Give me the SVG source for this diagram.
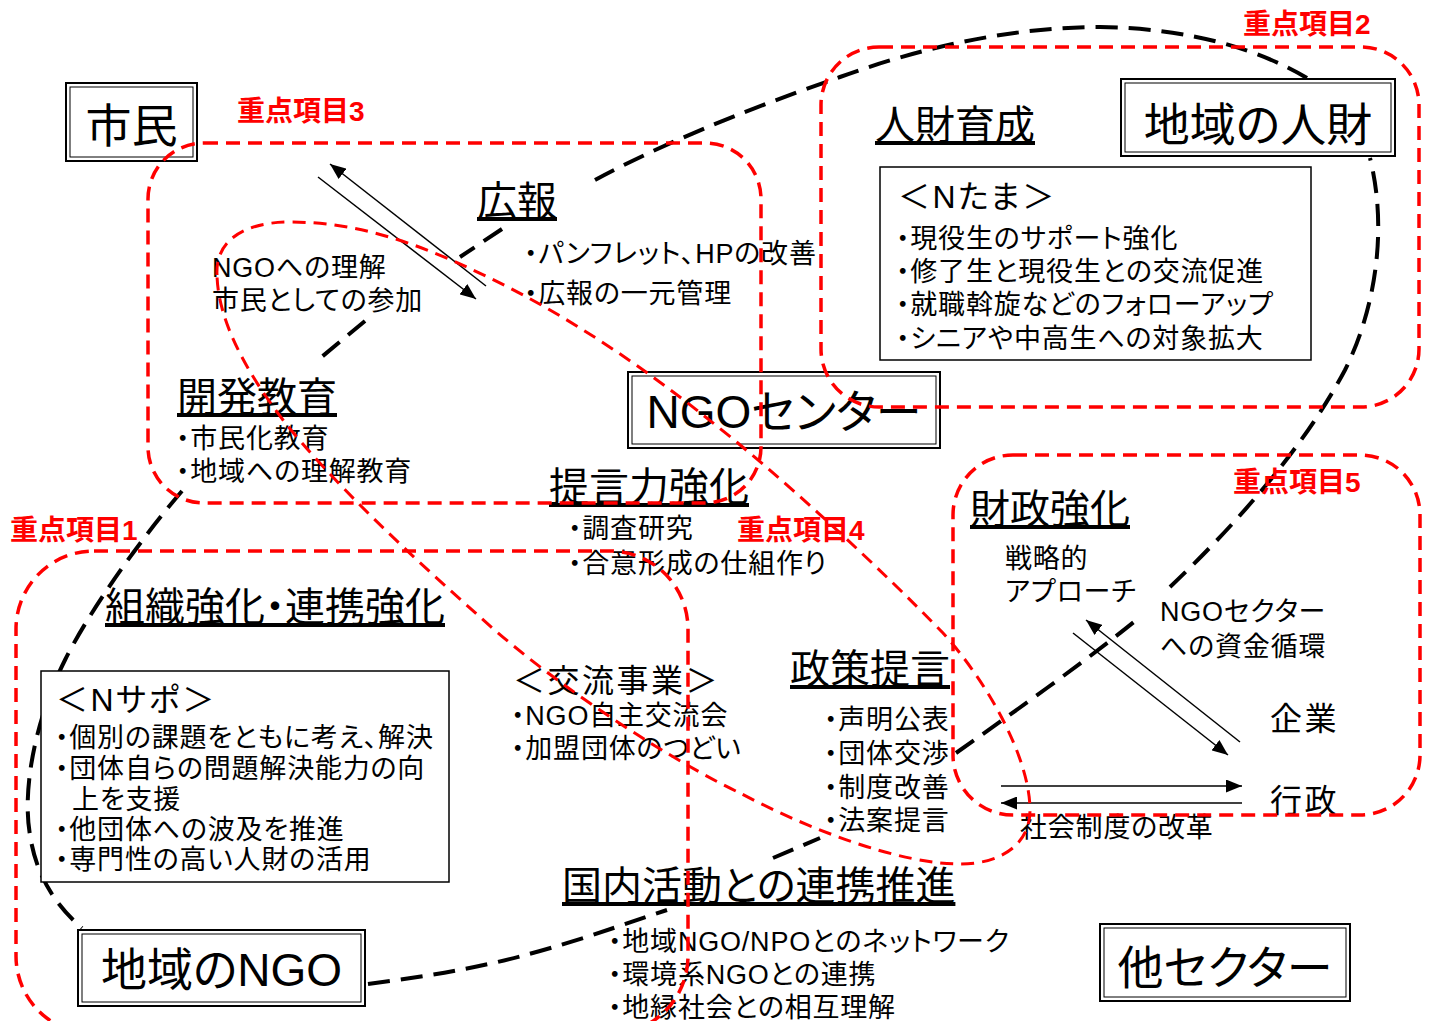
<svg xmlns="http://www.w3.org/2000/svg" width="1432" height="1021" viewBox="0 0 1432 1021">
<defs>
<style>
.t{font-family:"Liberation Sans","Noto Sans CJK JP",sans-serif;fill:#000;font-feature-settings:"palt" 1}
.b{font-size:27px;letter-spacing:0.8px}
.h{font-size:40px;text-decoration:underline}
.bx{font-size:46px;text-anchor:middle}
.hd{font-size:32px;letter-spacing:2.5px}
.red{font-family:"Liberation Sans","Noto Sans CJK JP",sans-serif;fill:#ff0000;font-weight:bold;font-size:28px}
.rd{fill:none;stroke:#ff0000;stroke-width:3.5;stroke-dasharray:14 8}
.rd2{fill:none;stroke:#ff0000;stroke-width:3;stroke-dasharray:13 8}
.bd{fill:none;stroke:#000;stroke-width:4;stroke-dasharray:22 11}
.ar{fill:none;stroke:#000;stroke-width:1.5;marker-end:url(#ah)}
.fo{fill:#fff;stroke:#000;stroke-width:2}
.fi{fill:none;stroke:#000;stroke-width:1}
.sb{fill:#fff;stroke:#000;stroke-width:1.5}
</style>
<marker id="ah" markerUnits="userSpaceOnUse" markerWidth="17" markerHeight="13" refX="16" refY="6.5" orient="auto">
<path d="M0,0 L16,6.5 L0,13 Z" fill="#000"/>
</marker>
</defs>
<rect width="1432" height="1021" fill="#fff"/>

<g id="connectors">
<path class="bd" d="M368,984 C430,976 480,968 540,951 C590,937 630,922 667,910"/>
<path class="bd" d="M773,858 L820,838"/>
<path class="bd" d="M956,753 C1010,715 1090,658 1140,617"/>
<path class="bd" d="M1170,587 C1225,535 1300,455 1345,370 C1375,310 1388,230 1370,158"/>
<path class="bd" d="M1307,78 C1260,50 1190,28 1100,27 C1010,27 920,48 840,77 C740,112 660,145 595,180"/>
<path class="bd" d="M502,229 L460,257"/>
<path class="bd" d="M365,321 L318,360"/>
<path class="bd" d="M182,491 C140,540 90,610 65,660 C35,720 22,790 30,835 C36,875 55,905 82,928"/>
<line class="ar" x1="318" y1="177" x2="476" y2="299"/>
<line class="ar" x1="486" y1="286" x2="330" y2="164"/>
<line class="ar" x1="1240" y1="742" x2="1086" y2="620"/>
<line class="ar" x1="1073" y1="633" x2="1228" y2="755"/>
<line class="ar" x1="1001" y1="786" x2="1242" y2="786"/>
<line class="ar" x1="1242" y1="803" x2="1001" y2="803"/>
</g>

<g id="node-shimin">
<rect class="fo" x="66" y="83" width="131" height="78"/>
<rect class="fi" x="70" y="87" width="123" height="70"/>
<text class="t bx" x="131.5" y="142">市民</text>
</g>
<g id="node-chiiki-jinzai">
<rect class="fo" x="1121" y="79" width="274" height="77"/>
<rect class="fi" x="1125" y="83" width="266" height="69"/>
<text class="t bx" x="1258" y="141">地域の人財</text>
</g>
<g id="node-ngo-center">
<rect class="fo" x="628" y="372" width="312" height="76"/>
<rect class="fi" x="632" y="376" width="304" height="68"/>
<text class="t bx" x="784" y="428">NGOセンター</text>
</g>
<g id="node-chiiki-ngo">
<rect class="fo" x="78" y="930" width="287" height="76"/>
<rect class="fi" x="82" y="934" width="279" height="68"/>
<text class="t bx" x="221.5" y="986">地域のNGO</text>
</g>
<g id="node-ta-sector">
<rect class="fo" x="1100" y="924" width="250" height="77"/>
<rect class="fi" x="1104" y="928" width="242" height="69"/>
<text class="t bx" x="1225" y="984">他セクター</text>
</g>

<g id="node-kouhou">
<text class="t h" x="477" y="215">広報</text>
<text class="t b" x="524" y="263">・パンフレット、HPの改善</text>
<text class="t b" x="524" y="303">・広報の一元管理</text>
</g>
<g id="node-rikai">
<text class="t b" x="212" y="277">NGOへの理解</text>
<text class="t b" x="212" y="310">市民としての参加</text>
</g>
<g id="node-kaihatsu">
<text class="t h" x="177" y="411">開発教育</text>
<text class="t b" x="176" y="448">・市民化教育</text>
<text class="t b" x="176" y="481">・地域への理解教育</text>
</g>
<g id="node-jinzai">
<text class="t h" x="875" y="139">人財育成</text>
<rect class="sb" x="880" y="167" width="431" height="193"/>
<text class="t hd" x="898" y="208">＜Nたま＞</text>
<text class="t b" x="896" y="248">・現役生のサポート強化</text>
<text class="t b" x="896" y="281">・修了生と現役生との交流促進</text>
<text class="t b" x="896" y="314">・就職斡旋などのフォローアップ</text>
<text class="t b" x="896" y="348">・シニアや中高生への対象拡大</text>
</g>
<g id="node-teigen">
<text class="t h" x="549" y="501">提言力強化</text>
<text class="t b" x="568" y="538">・調査研究</text>
<text class="t b" x="568" y="573">・合意形成の仕組作り</text>
</g>
<g id="node-soshiki">
<text class="t h" x="105" y="621">組織強化・連携強化</text>
<rect class="sb" x="41" y="671" width="408" height="211"/>
<text class="t hd" x="56" y="711">＜Nサポ＞</text>
<text class="t b" x="55" y="747">・個別の課題をともに考え、解決</text>
<text class="t b" x="55" y="778">・団体自らの問題解決能力の向</text>
<text class="t b" x="72" y="809">上を支援</text>
<text class="t b" x="55" y="839">・他団体への波及を推進</text>
<text class="t b" x="55" y="869">・専門性の高い人財の活用</text>
</g>
<g id="node-kouryu">
<text class="t hd" x="513" y="692">＜交流事業＞</text>
<text class="t b" x="511" y="725">・NGO自主交流会</text>
<text class="t b" x="511" y="758">・加盟団体のつどい</text>
</g>
<g id="node-seisaku">
<text class="t h" x="790" y="683">政策提言</text>
<text class="t b" x="824" y="729">・声明公表</text>
<text class="t b" x="824" y="763">・団体交渉</text>
<text class="t b" x="824" y="797">・制度改善</text>
<text class="t b" x="824" y="830">・法案提言</text>
</g>
<g id="node-kokunai">
<text class="t h" x="562" y="900">国内活動との連携推進</text>
<text class="t b" x="608" y="951">・地域NGO/NPOとのネットワーク</text>
<text class="t b" x="608" y="984">・環境系NGOとの連携</text>
<text class="t b" x="608" y="1017">・地縁社会との相互理解</text>
</g>
<g id="node-zaisei">
<text class="t h" x="970" y="523">財政強化</text>
<text class="t b" x="1005" y="568">戦略的</text>
<text class="t b" x="1005" y="601">アプローチ</text>
<text class="t b" x="1160" y="621">NGOセクター</text>
<text class="t b" x="1160" y="656">への資金循環</text>
<text class="t hd" x="1270" y="730">企業</text>
<text class="t hd" x="1270" y="812">行政</text>
<text class="t b" x="1020" y="837">社会制度の改革</text>
</g>

<g id="focus-areas">
<rect class="rd" x="148" y="143" width="613" height="360" rx="56"/>
<rect class="rd" x="821" y="47" width="598" height="360" rx="58"/>
<rect class="rd" x="953" y="455" width="467" height="360" rx="60"/>
<rect class="rd" x="16" y="551" width="672" height="483" rx="78"/>
<path class="rd2" d="M217,275 C215,240 245,222 290,222 C360,222 420,245 473,270 C560,310 640,365 703,415 C780,475 880,568 943,633 C990,685 1030,760 1030,810 C1030,845 1000,864 960,864 C900,864 810,830 740,793 C680,765 560,690 480,617 C410,555 330,480 283,420 C245,370 218,320 217,275 Z"/>
<text class="red" x="237" y="121">重点項目3</text>
<text class="red" x="1243" y="34">重点項目2</text>
<text class="red" x="10" y="540">重点項目1</text>
<text class="red" x="737" y="540">重点項目4</text>
<text class="red" x="1233" y="492">重点項目5</text>
</g>
</svg>
